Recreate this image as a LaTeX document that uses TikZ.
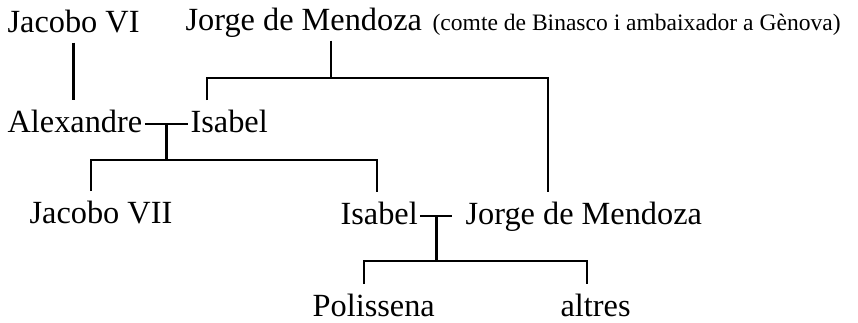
\documentclass[tikz,border=0pt]{standalone}
\usepackage{fontspec}
\setmainfont{Liberation Serif}
\usetikzlibrary{calc}
\tikzset{
  person/.style={anchor=base west, inner sep=0pt, outer xsep=1.5pt, outer ysep=6pt,
    text height=12.2pt, text depth=0pt},
  branch/.style={line width=1.35pt}
}
\begin{document}
\begin{tikzpicture}[x=0.02cm, y=-0.02cm, font=\fontsize{18.4}{22}\selectfont]
                  \useasboundingbox (0, 0) rectangle (858, 322);

                  \node[person] (jacobo6) at (5, 32){Jacobo VI};
                  \node[person] (jorge1) at (183, 30){Jorge de Mendoza};
                    \node[person, font=\fontsize{13.4}{16}\selectfont] (titol) at (430, 30){(comte de Binasco i ambaixador a Gènova)};
                  \node[person] (alexandre) at (5, 132){Alexandre};
                  \node[person] (isabel1) at (188, 132){Isabel};
                  \node[person] (jacobo7) at (27, 223){Jacobo VII};
                  \node[person] (isabel2) at (338, 224){Isabel};
                  \node[person] (jorge2) at (463, 224){Jorge de Mendoza};
                  \node[person] (polissena) at (310, 316){Polissena};
                  \node[person] (altres) at (558, 316){altres};

                  \draw[branch] (jacobo6.south) to (jacobo6.south |- alexandre.north);

                  \coordinate (b1m) at (331, 78);
                  \coordinate (b1l) at (207, 78);
                  \coordinate (b1r) at (548, 78);
                   \draw[branch] (b1m |- jorge1.south) to (b1m);
                   \draw[branch] (b1l |- isabel1.north) -- (b1l) -- (b1r) -- (b1r |- jorge2.north);

                  \draw[branch] ([yshift=-1.7pt]alexandre.east) to ([yshift=-1.7pt]isabel1.west);
                  \coordinate (m1) at ($([yshift=-1.7pt]alexandre.east)!0.5!([yshift=-1.7pt]isabel1.west)$);
                  \coordinate (b2l) at (91, 160);
                  \coordinate (b2r) at (377, 160);
                   \draw[branch] (m1) to (m1 |- b2l);
                   \draw[branch] (b2l |- jacobo7.north) -- (b2l) -- (b2r) -- (b2r |- isabel2.north);

                  \draw[branch] ([yshift=-1.7pt]isabel2.east) to ([xshift=-6pt, yshift=-1.7pt]jorge2.west);
                  \coordinate (m2) at ($([yshift=-1.7pt]isabel2.east)!0.5!([xshift=-6pt, yshift=-1.7pt]jorge2.west)$);
                  \coordinate (b3l) at (364, 261);
                  \coordinate (b3r) at (587, 261);
                   \draw[branch] (m2) to (m2 |- b3l);
                   \draw[branch] (b3l |- polissena.north) -- (b3l) -- (b3r) -- (b3r |- altres.north);

\end{tikzpicture}
\end{document}
